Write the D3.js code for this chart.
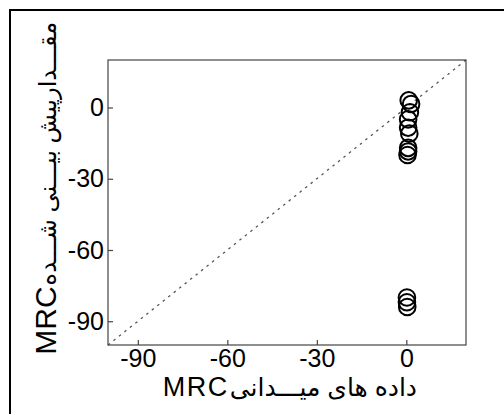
<!DOCTYPE html>
<html>
<head>
<meta charset="utf-8">
<script src="https://cdn.jsdelivr.net/npm/d3@7"></script>
<style>
  html, body { margin: 0; padding: 0; background: #fff; }
  svg { display: block; }
</style>
</head>
<body>
<svg id="chart"></svg>
<script>
// observed (field) MRC vs predicted MRC
const fieldMRC = [0.8, 1.6, 1.2, 0.6, 0.6, 1.0, 0.6, 0.6, 0.4, 0.2, 0.2, 0.3];
const predictedMRC = [3, 1.5, -2, -5, -8.5, -11, -17, -18.5, -20, -80, -82, -84];
const xTicks = [-90, -60, -30, 0];
const yTicks = [0, -30, -60, -90];
const domainMin = -100, domainMax = 20;
const xTitle = "داده های میـــدانی";
const yTitle = "مقـــدارپیش بیـــنی شـــده";
const unitLabel = "MRC";

const width = 504, height = 414;
const margin = { top: 60, right: 38, bottom: 69, left: 108 };

const svg = d3.select("#chart")
    .attr("width", width)
    .attr("height", height);

const font = "'Liberation Sans', Arial, 'DejaVu Sans', sans-serif";

// outer frame (runs off right / bottom edges)
svg.append("rect")
    .attr("x", 10).attr("y", 10)
    .attr("width", 500).attr("height", 410)
    .attr("fill", "none")
    .attr("stroke", "#000")
    .attr("stroke-width", 2);

const x = d3.scaleLinear()
    .domain([domainMin, domainMax])
    .range([margin.left, width - margin.right]);

const y = d3.scaleLinear()
    .domain([domainMin, domainMax])
    .range([height - margin.bottom, margin.top]);

const g = svg.append("g");

// 1:1 line
g.append("line")
    .attr("x1", x(domainMin)).attr("y1", y(domainMin))
    .attr("x2", x(domainMax)).attr("y2", y(domainMax))
    .attr("stroke", "#555")
    .attr("stroke-width", 1.3)
    .attr("stroke-dasharray", "2.5,4.5");

// points
g.append("g")
    .selectAll("circle")
    .data(predictedMRC.map((v, i) => ({ obs: fieldMRC[i], pred: v })))
    .join("circle")
    .attr("cx", d => x(d.obs))
    .attr("cy", d => y(d.pred))
    .attr("r", 8.3)
    .attr("fill", "none")
    .attr("stroke", "#000")
    .attr("stroke-width", 2);

// plot box
g.append("rect")
    .attr("x", x(domainMin)).attr("y", y(domainMax))
    .attr("width", x(domainMax) - x(domainMin))
    .attr("height", y(domainMin) - y(domainMax))
    .attr("fill", "none")
    .attr("stroke", "#444")
    .attr("stroke-width", 1.2);

// axes with inward ticks
const xAxis = g.append("g")
    .attr("transform", `translate(0,${y(domainMin)})`)
    .call(d3.axisBottom(x).tickValues(xTicks).tickSize(-5).tickFormat(d => String(d)));
const yAxis = g.append("g")
    .attr("transform", `translate(${x(domainMin)},0)`)
    .call(d3.axisLeft(y).tickValues(yTicks).tickSize(-5).tickPadding(4).tickFormat(d => String(d)));

[xAxis, yAxis].forEach(a => {
    a.select(".domain").remove();
    a.selectAll(".tick line").attr("stroke", "#444").attr("stroke-width", 1.2);
    a.selectAll(".tick text")
        .attr("fill", "#000")
        .style("font-family", font)
        .style("font-size", "25px");
});
xAxis.selectAll(".tick text").attr("dy", "0.71em").attr("y", 4);

// x title: persian words, then MRC directly to their left
const xRight = 417, xBase = 396;
const xPer = svg.append("text")
    .attr("x", xRight).attr("y", xBase)
    .attr("text-anchor", "end")
    .style("font-family", font).style("font-size", "25px")
    .attr("fill", "#000")
    .text(xTitle);
const xPerW = xPer.node().getComputedTextLength();
svg.append("text")
    .attr("x", xRight - xPerW - 1).attr("y", xBase)
    .attr("text-anchor", "end")
    .style("font-family", font).style("font-size", "27px")
    .style("letter-spacing", "1.5px")
    .attr("fill", "#000")
    .text(unitLabel);

// y title, rotated: MRC at the bottom, persian above it
const yTop = 22;
const yt = svg.append("g").attr("transform", "translate(56,0) rotate(-90)");
const yPer = yt.append("text")
    .attr("x", -yTop).attr("y", 0)
    .attr("text-anchor", "end")
    .style("font-family", font).style("font-size", "24px")
    .attr("fill", "#000")
    .text(yTitle);
const yPerW = yPer.node().getComputedTextLength();
yt.append("text")
    .attr("x", -yTop - yPerW - 1).attr("y", 0)
    .attr("text-anchor", "end")
    .style("font-family", font).style("font-size", "30px")
    .attr("fill", "#000")
    .text(unitLabel);
</script>
</body>
</html>
